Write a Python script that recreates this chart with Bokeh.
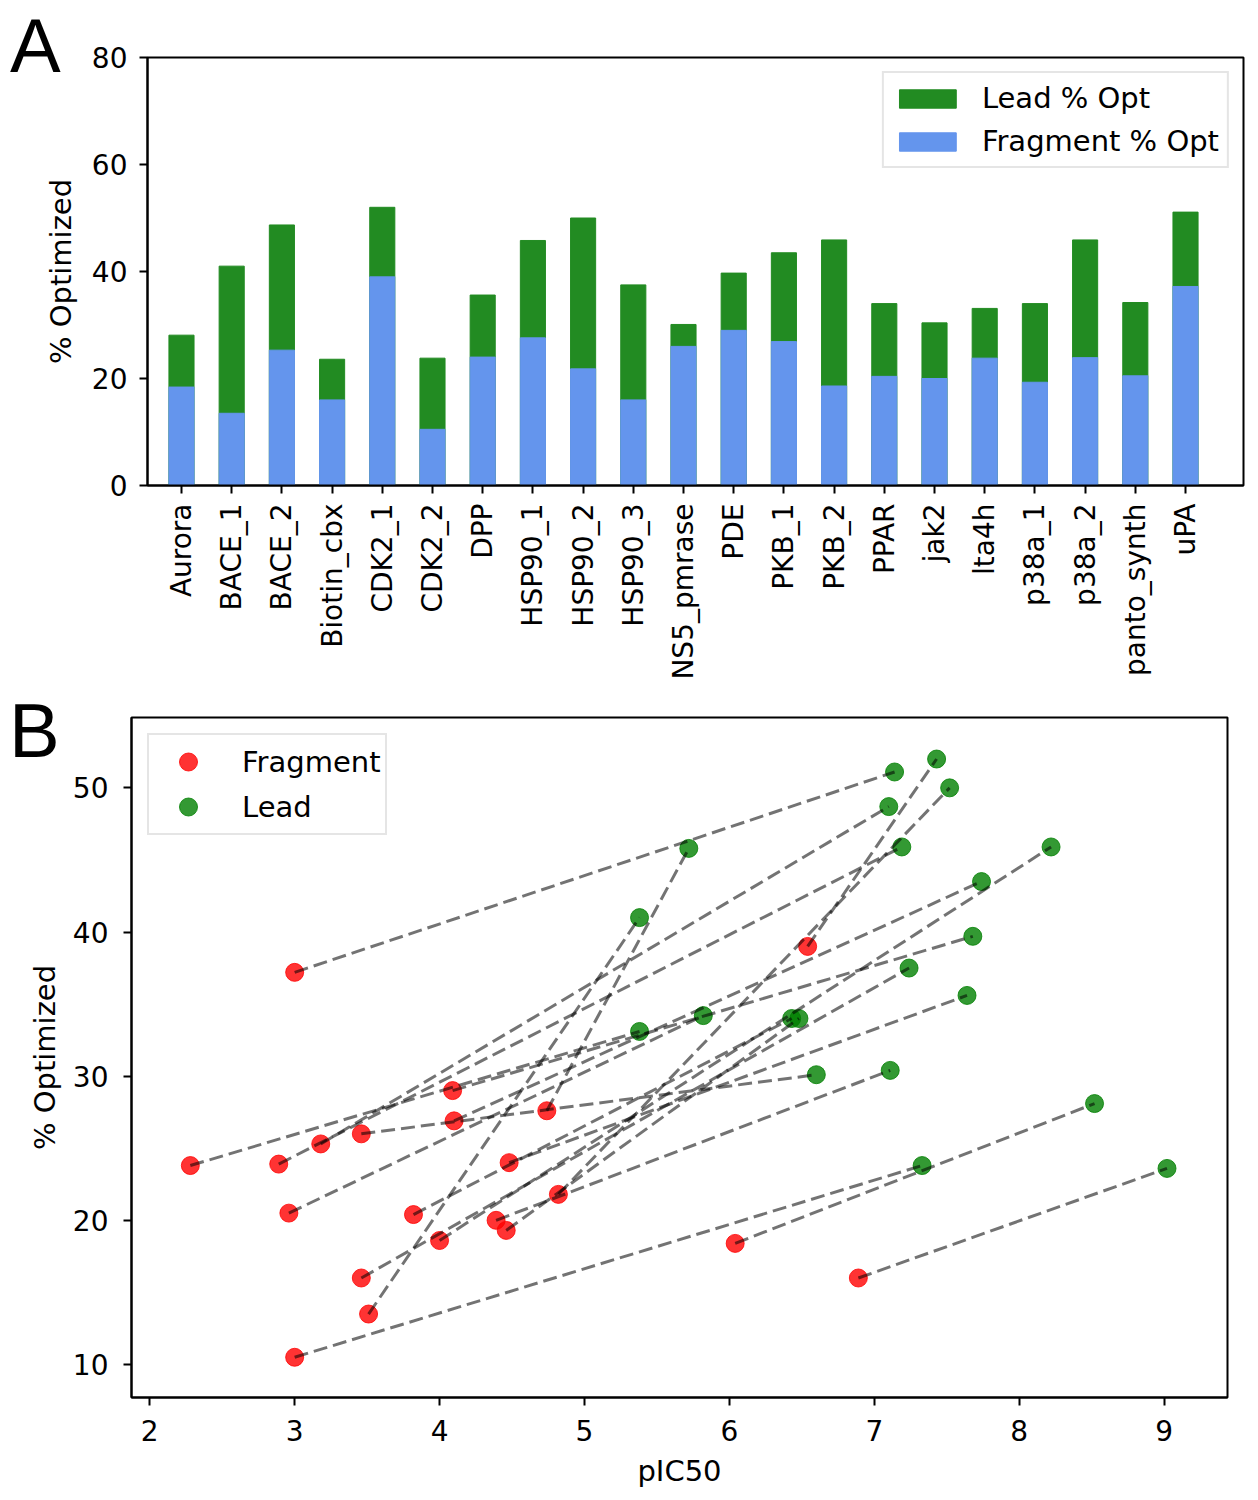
import math
from bokeh.plotting import figure
from bokeh.models import Legend, LegendItem, FixedTicker, Range1d, Div
from bokeh.embed import file_html
from bokeh.resources import INLINE

# ---------------- data ----------------
targets = ["Aurora", "BACE_1", "BACE_2", "Biotin_cbx", "CDK2_1", "CDK2_2", "DPP",
           "HSP90_1", "HSP90_2", "HSP90_3", "NS5_pmrase", "PDE", "PKB_1", "PKB_2",
           "PPAR", "jak2", "lta4h", "p38a_1", "p38a_2", "panto_synth", "uPA"]
frag_opt = [18.4, 13.5, 25.3, 16.0, 39.0, 10.5, 24.0, 27.6, 21.8, 16.0, 26.0,
            29.0, 26.9, 18.6, 20.4, 20.0, 23.8, 19.3, 23.9, 20.5, 37.2]
lead_opt = [28.1, 41.0, 48.7, 23.6, 52.0, 23.8, 35.6, 45.8, 50.0, 37.5, 30.1,
            39.7, 43.5, 45.9, 34.0, 30.4, 33.1, 34.0, 45.9, 34.2, 51.1]
frag_pic50 = [6.04, 3.51, 3.18, 6.89, 6.54, 3.00, 4.48, 4.74, 4.82, 3.46, 3.46,
              4.09, 4.10, 4.00, 3.82, 4.39, 2.28, 4.46, 2.89, 2.96, 3.00]
lead_pic50 = [8.52, 5.38, 7.10, 9.02, 7.43, 7.33, 7.64, 5.72, 7.52, 7.24, 6.60,
              7.68, 7.74, 8.22, 6.43, 7.11, 5.38, 6.48, 7.19, 5.82, 7.14]
y_ticks_a = [0, 20, 40, 60, 80]
x_ticks_b = [2, 3, 4, 5, 6, 7, 8, 9]
y_ticks_b = [10, 20, 30, 40, 50]

FONT = "DejaVu Sans"


def style_axes(p):
    for ax in (p.xaxis, p.yaxis):
        ax.major_label_text_font = FONT
        ax.major_label_text_font_size = "28px"
        ax.major_label_text_color = "black"
        ax.axis_label_text_font = FONT
        ax.axis_label_text_font_size = "29px"
        ax.axis_label_text_font_style = "normal"
        ax.axis_label_text_color = "black"
        ax.major_tick_out = 8
        ax.major_tick_in = 0
        ax.minor_tick_line_color = None
        ax.major_tick_line_width = 2
        ax.axis_line_width = 2
        ax.axis_line_color = "black"
    p.xgrid.grid_line_color = None
    p.ygrid.grid_line_color = None
    p.outline_line_color = "black"
    p.outline_line_width = 2
    p.outline_line_alpha = 1.0


# ---------------- panel A ----------------
xs = list(range(len(targets)))
pA = figure(width=1250, height=690, x_range=Range1d(-0.677, 21.155), y_range=Range1d(0, 80),
            output_backend="svg", toolbar_location=None,
            min_border_left=147, min_border_right=7, min_border_top=57, min_border_bottom=205)
style_axes(pA)
g_lead = pA.vbar(x=xs, top=lead_opt, width=0.5, fill_color="#228B22", line_color="#228B22")
g_frag = pA.vbar(x=xs, top=frag_opt, width=0.5, fill_color="#6495ED", line_color="#6495ED")

pA.xaxis.ticker = FixedTicker(ticks=xs)
pA.xaxis.major_label_overrides = {i: t for i, t in enumerate(targets)}
pA.xaxis.major_label_orientation = math.pi / 2
pA.xaxis.major_label_standoff = 10
pA.yaxis.ticker = FixedTicker(ticks=y_ticks_a)
pA.yaxis.major_label_standoff = 12
pA.yaxis.axis_label = "% Optimized"
pA.yaxis.axis_label_standoff = 11

legA = Legend(items=[LegendItem(label="Lead % Opt", renderers=[g_lead]),
                     LegendItem(label="Fragment % Opt", renderers=[g_frag])],
              location="top_right", margin=14, padding=8, spacing=9,
              glyph_width=71, glyph_height=23, label_height=23, label_standoff=19,
              label_text_font=FONT, label_text_font_size="29px", label_text_color="black",
              border_line_color="#cccccc", border_line_width=2,
              background_fill_color="white", background_fill_alpha=0.8)
pA.add_layout(legA)

# ---------------- panel B ----------------
pB = figure(width=1250, height=800, x_range=Range1d(1.874, 9.4375), y_range=Range1d(7.71, 54.88),
            output_backend="svg", toolbar_location=None,
            min_border_left=131, min_border_right=23, min_border_top=27, min_border_bottom=90)
style_axes(pB)
r_frag = pB.scatter(frag_pic50, frag_opt, size=18, fill_color="red", line_color="red",
                    fill_alpha=0.8, line_alpha=0.8)
r_lead = pB.scatter(lead_pic50, lead_opt, size=18, fill_color="green", line_color="green",
                    fill_alpha=0.8, line_alpha=0.8)
pB.multi_line(xs=[[a, b] for a, b in zip(frag_pic50, lead_pic50)],
              ys=[[a, b] for a, b in zip(frag_opt, lead_opt)],
              line_color="black", line_alpha=0.55, line_width=3, line_dash="14 6")

pB.xaxis.ticker = FixedTicker(ticks=x_ticks_b)
pB.yaxis.ticker = FixedTicker(ticks=y_ticks_b)
pB.xaxis.major_label_standoff = 14
pB.yaxis.major_label_standoff = 15
pB.xaxis.axis_label = "pIC50"
pB.xaxis.axis_label_standoff = 10
pB.yaxis.axis_label = "% Optimized"
pB.yaxis.axis_label_standoff = 8

legB = Legend(items=[LegendItem(label="Fragment", renderers=[r_frag]),
                     LegendItem(label="Lead", renderers=[r_lead])],
              location="top_left", margin=16, padding=4, spacing=-3,
              glyph_width=70, glyph_height=45, label_height=45, label_standoff=19,
              label_text_font=FONT, label_text_font_size="29px", label_text_color="black",
              border_line_color="#cccccc", border_line_width=2,
              background_fill_color="white", background_fill_alpha=0.8)
pB.add_layout(legB)

# ---------------- panel letters ----------------
LETTER = ('<div style="font-family: \'Liberation Sans\'; font-size: 76px; line-height: normal; '
          'margin: 0; padding: 0; color: black;">{}</div>')
divA = Div(text=LETTER.format("A"),
           styles={"position": "absolute", "left": "10px", "top": "2px", "margin": "0px"})
divB = Div(text=LETTER.format("B"),
           styles={"position": "absolute", "left": "9px", "top": "687px", "margin": "0px"})

open("out.html", "w").write(file_html([pA, pB, divA, divB], INLINE))
